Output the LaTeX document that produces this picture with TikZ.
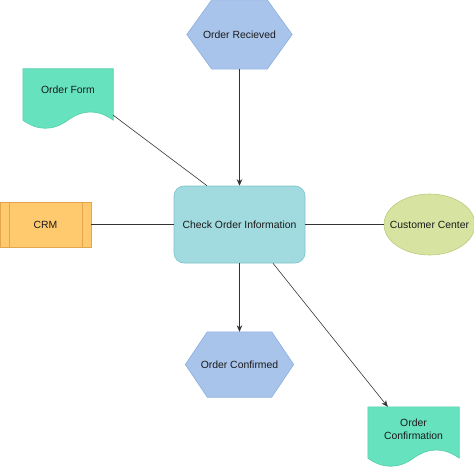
\documentclass[tikz,border=0pt]{standalone}
\usepackage{fontspec}
\setmainfont{Liberation Sans}
\usetikzlibrary{calc,arrows.meta,shapes.geometric}
\pgfdeclarelayer{background}
\pgfsetlayers{background,main}
\definecolor{hexfill}{HTML}{A9C4EB}
\definecolor{hexline}{HTML}{8DAEE0}
\definecolor{chkfill}{HTML}{A2DBDF}
\definecolor{chkline}{HTML}{7CC3C8}
\definecolor{docfill}{HTML}{66E2BE}
\definecolor{docline}{HTML}{55CDA8}
\definecolor{ccfill}{HTML}{D7E3A0}
\definecolor{ccline}{HTML}{BCCB7C}
\definecolor{crmfill}{HTML}{FFCA6E}
\definecolor{crmline}{HTML}{E3A64E}
\definecolor{txt}{HTML}{1A1A1A}
\definecolor{edge}{HTML}{333333}
\newcommand\docpath[2]{%
  \path[#1] let \p1=(#2.north west), \p2=(#2.south east), \n1={\x2-\x1}, \n2={\y1-\y2} in
    (\x1,\y1) -- (\x2,\y1) -- (\x2,{\y1-0.85*\n2})
    .. controls ({\x1+0.8333*\n1},{\y1-0.67*\n2}) and ({\x1+0.6667*\n1},{\y1-0.67*\n2}) .. ({\x1+0.5*\n1},{\y1-0.85*\n2})
    .. controls ({\x1+0.3333*\n1},{\y1-1.03*\n2}) and ({\x1+0.1667*\n1},{\y1-1.03*\n2}) .. (\x1,{\y1-0.85*\n2}) -- cycle;}
\newcommand\hexpath[3]{%
  \path[#1] (#2.west) -- ($(#2.north west)+(#3,0)$) -- ($(#2.north east)+(-#3,0)$) -- (#2.east)
    -- ($(#2.south east)+(-#3,0)$) -- ($(#2.south west)+(#3,0)$) -- cycle;}
\begin{document}
\begin{tikzpicture}[x=1pt,y=-1pt,
  font=\fontsize{10.4}{12.5}\selectfont, text=txt,
  frame/.style={draw=none, inner sep=0pt, align=center},
  hexst/.style={fill=hexfill, draw=hexline, line width=0.6pt},
  docst/.style={fill=docfill, draw=docline, line width=0.6pt},
  ln/.style={draw=edge, line width=0.6pt},
  arr/.style={ln, -{Stealth[length=6.5pt,width=5.5pt]}}]
\useasboundingbox (0,0) rectangle (474,468);

% Order Recieved
\node[frame, minimum width=105, minimum height=69] (orc) at (239.5,34.5) {Order Recieved};
% Order Form
\node[frame, minimum width=90, minimum height=60] (of) at (68,99) {};
\node[frame] (oft) at (68,89.5) {Order Form};
% CRM
\node[draw=crmline, fill=crmfill, line width=0.6pt, minimum width=91, minimum height=45, inner sep=0pt] (crm) at (45.5,224.5) {CRM};
\draw[crmline, line width=0.6pt] ($(crm.north west)+(10,0)$) -- ($(crm.south west)+(10,0)$);
\draw[crmline, line width=0.6pt] ($(crm.north east)+(-9,0)$) -- ($(crm.south east)+(-9,0)$);
% Check
\node[draw=chkline, fill=chkfill, line width=0.6pt, rounded corners=10pt, minimum width=131, minimum height=77, inner sep=0pt] (chk) at (239.5,224.5) {Check Order Information};
% Customer Center
\node[frame, minimum width=91, minimum height=61] (cc) at (429.5,224.5) {Customer Center};
% Order Confirmed
\node[frame, minimum width=108, minimum height=65] (ocd) at (239.5,364.5) {Order Confirmed};
% Order Confirmation
\node[frame, minimum width=91, minimum height=60] (ocn) at (413.5,437) {};
\node[frame] (ocnt) at (413.5,429.5) {Order\\Confirmation};

\begin{pgfonlayer}{background}
  \hexpath{hexst}{orc}{25}
  \hexpath{hexst}{ocd}{22}
  \docpath{docst}{of}
  \docpath{docst}{ocn}
  \path[fill=ccfill, draw=ccline, line width=0.6pt] (cc.center) ellipse [x radius=45.5, y radius=30.5];
\end{pgfonlayer}

% connectors
\draw[arr] (orc.south) -- (chk.north);
\draw[ln] ($(of.south east)+(0,-14)$) -- ($(chk.north)+(-32.5,0)$);
\draw[ln] (crm.east) -- (chk.west);
\draw[ln] (chk.east) -- (cc.west);
\draw[arr] (chk.south) -- (ocd.north);
\draw[arr] ($(chk.south)+(33.5,0)$) -- ($(ocn.north west)+(20,0)$);
\end{tikzpicture}
\end{document}
